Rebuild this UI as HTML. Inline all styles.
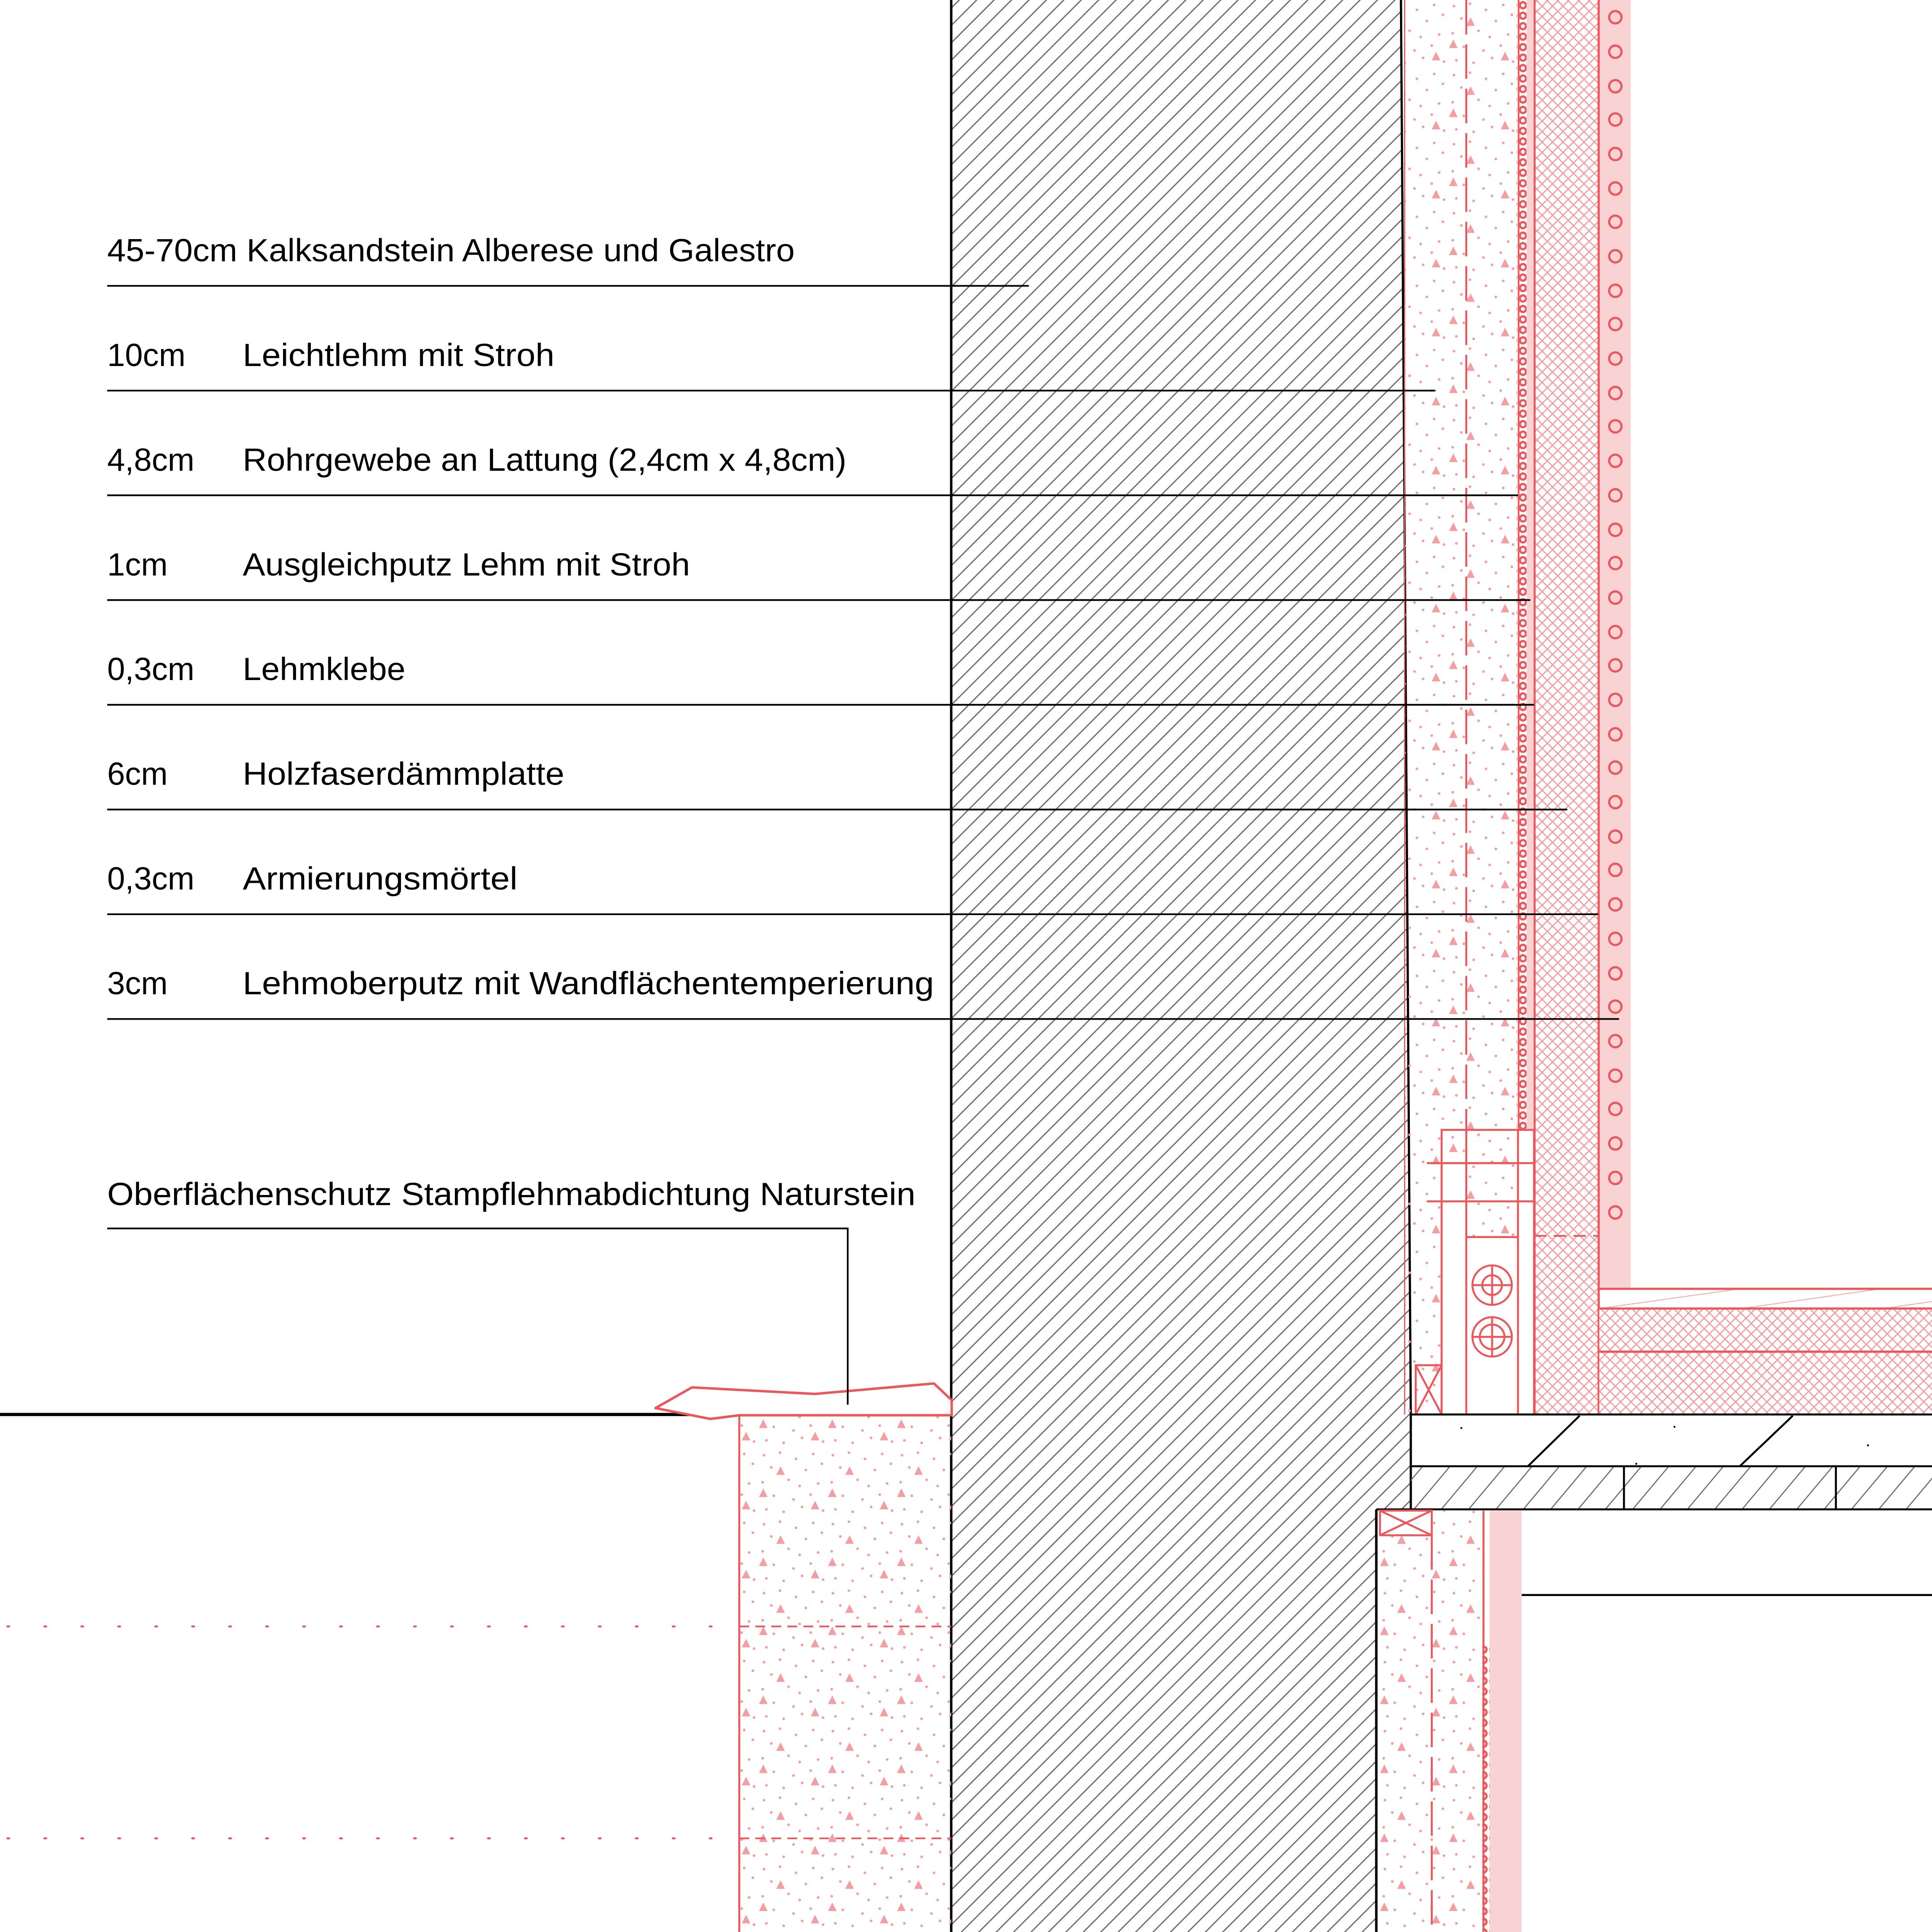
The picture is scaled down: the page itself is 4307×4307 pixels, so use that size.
<!DOCTYPE html>
<html><head><meta charset="utf-8"><style>html,body{margin:0;padding:0;background:#fff}svg{display:block}</style></head>
<body>
<svg width="4307" height="4307" viewBox="0 0 1568 1568" xmlns="http://www.w3.org/2000/svg">
<defs>
<pattern id="hatch" patternUnits="userSpaceOnUse" width="10" height="10" patternTransform="rotate(45)">
<line x1="0" y1="0" x2="0" y2="10" stroke="#6a6a6a" stroke-width="2"/>
</pattern>
<pattern id="hatch2" patternUnits="userSpaceOnUse" width="17" height="17" patternTransform="rotate(40)">
<line x1="0" y1="0" x2="0" y2="17" stroke="#6a6a6a" stroke-width="1.8"/>
</pattern>
<pattern id="cross" patternUnits="userSpaceOnUse" width="6" height="6" patternTransform="rotate(45)">
<rect width="6" height="6" fill="#fff"/>
<line x1="0" y1="0" x2="6" y2="0" stroke="#f0a0a4" stroke-width="2"/>
<line x1="0" y1="0" x2="0" y2="6" stroke="#f0a0a4" stroke-width="2"/>
</pattern>
<pattern id="flr" patternUnits="userSpaceOnUse" width="60" height="16" patternTransform="rotate(-8)">
<line x1="0" y1="0" x2="60" y2="0" stroke="#f0a0a4" stroke-width="1.3"/>
</pattern>
<pattern id="dots" patternUnits="userSpaceOnUse" width="56" height="56">
<g fill="#f29ea2">
<circle cx="4" cy="5" r="1.1"/><circle cx="17" cy="3" r="1.1"/><circle cx="30" cy="8" r="1.1"/><circle cx="44" cy="4" r="1.1"/>
<circle cx="10" cy="15" r="1.1"/><circle cx="38" cy="17" r="1.1"/><circle cx="51" cy="12" r="1.1"/>
<circle cx="3" cy="27" r="1.1"/><circle cx="24" cy="25" r="1.1"/><circle cx="33" cy="30" r="1.1"/><circle cx="48" cy="28" r="1.1"/>
<circle cx="12" cy="38" r="1.1"/><circle cx="28" cy="41" r="1.1"/><circle cx="42" cy="37" r="1.1"/>
<circle cx="6" cy="49" r="1.1"/><circle cx="20" cy="51" r="1.1"/><circle cx="35" cy="47" r="1.1"/><circle cx="52" cy="50" r="1.1"/>
<path d="M14 21 l3.5 -7 l3.5 7z"/><path d="M42 49 l3.5 -7 l3.5 7z"/><path d="M0 39 l3.5 -7 l3.5 7z"/>
</g>
</pattern>
<pattern id="chain" patternUnits="userSpaceOnUse" width="8" height="8.5">
<circle cx="4" cy="4.25" r="2.5" fill="none" stroke="#e8585c" stroke-width="1.8"/>
</pattern>
<clipPath id="wallclip"><polygon points="772,0 1137,0 1145,1148 1145,1225 1117,1225 1117,1568 772,1568"/></clipPath>
</defs>

<rect x="772" y="0" width="380" height="1568" fill="url(#hatch)" clip-path="url(#wallclip)"/>
<line x1="772" y1="0" x2="772" y2="1568" stroke="#000" stroke-width="2"/>
<polyline points="1137,0 1145,1148 1145,1225" fill="none" stroke="#000" stroke-width="1.8"/>
<line x1="1117" y1="1225" x2="1117" y2="1568" stroke="#000" stroke-width="2"/>

<rect x="1140" y="0" width="92" height="1148" fill="url(#dots)"/>
<line x1="1140" y1="0" x2="1140" y2="1148" stroke="#e8585c" stroke-width="1"/>
<line x1="1190" y1="0" x2="1190" y2="917" stroke="#e8585c" stroke-width="1.6" stroke-dasharray="28,8"/>
<rect x="1231" y="0" width="8" height="917" fill="url(#chain)"/>
<line x1="1232.5" y1="0" x2="1232.5" y2="917" stroke="#e8585c" stroke-width="1.4"/>
<rect x="1239" y="0" width="6" height="917" fill="#f9d3d4"/>
<rect x="1245" y="0" width="52" height="1148" fill="url(#cross)"/>
<line x1="1245.5" y1="0" x2="1245.5" y2="1148" stroke="#e8585c" stroke-width="1.6"/>
<line x1="1297.5" y1="0" x2="1297.5" y2="1148" stroke="#e8585c" stroke-width="1.8"/>
<line x1="1245" y1="1003" x2="1297" y2="1003" stroke="#e8585c" stroke-width="1.4" stroke-dasharray="10,6"/>
<rect x="1298.5" y="0" width="25" height="1046" fill="#f9d3d4"/>
<g fill="none" stroke="#e8585c" stroke-width="1.8">
<circle cx="1311" cy="14" r="5"/><circle cx="1311" cy="42" r="5"/><circle cx="1311" cy="70" r="5"/><circle cx="1311" cy="97" r="5"/><circle cx="1311" cy="125" r="5"/><circle cx="1311" cy="153" r="5"/><circle cx="1311" cy="180" r="5"/><circle cx="1311" cy="208" r="5"/><circle cx="1311" cy="236" r="5"/><circle cx="1311" cy="263" r="5"/><circle cx="1311" cy="291" r="5"/><circle cx="1311" cy="319" r="5"/><circle cx="1311" cy="346" r="5"/><circle cx="1311" cy="374" r="5"/><circle cx="1311" cy="402" r="5"/><circle cx="1311" cy="430" r="5"/><circle cx="1311" cy="457" r="5"/><circle cx="1311" cy="485" r="5"/><circle cx="1311" cy="513" r="5"/><circle cx="1311" cy="540" r="5"/><circle cx="1311" cy="568" r="5"/><circle cx="1311" cy="596" r="5"/><circle cx="1311" cy="623" r="5"/><circle cx="1311" cy="651" r="5"/><circle cx="1311" cy="679" r="5"/><circle cx="1311" cy="706" r="5"/><circle cx="1311" cy="734" r="5"/><circle cx="1311" cy="762" r="5"/><circle cx="1311" cy="790" r="5"/><circle cx="1311" cy="817" r="5"/><circle cx="1311" cy="845" r="5"/><circle cx="1311" cy="873" r="5"/><circle cx="1311" cy="900" r="5"/><circle cx="1311" cy="928" r="5"/><circle cx="1311" cy="956" r="5"/><circle cx="1311" cy="984" r="5"/>
</g>

<g stroke="#e8585c" stroke-width="1.6" fill="none">
<rect x="1170" y="944" width="62" height="204" fill="#fff"/>
<rect x="1190" y="917" width="42" height="87" fill="url(#dots)"/>
<rect x="1232" y="917" width="13" height="231" fill="#fff"/>
<polyline points="1170,1148 1170,917 1190,917"/>
<line x1="1158" y1="944" x2="1245" y2="944"/>
<line x1="1158" y1="975" x2="1245" y2="975"/>
<line x1="1190" y1="917" x2="1190" y2="1148"/>
<line x1="1190" y1="1004" x2="1232" y2="1004"/>
<circle cx="1211" cy="1043" r="16"/><circle cx="1211" cy="1043" r="8"/>
<line x1="1195" y1="1043" x2="1227" y2="1043"/><line x1="1211" y1="1027" x2="1211" y2="1059"/>
<circle cx="1211" cy="1085" r="16"/><circle cx="1211" cy="1085" r="10"/>
<line x1="1195" y1="1085" x2="1227" y2="1085"/><line x1="1211" y1="1069" x2="1211" y2="1101"/>
<rect x="1149" y="1108" width="21" height="40"/>
<line x1="1149" y1="1108" x2="1170" y2="1148"/><line x1="1170" y1="1108" x2="1149" y2="1148"/>
</g>

<rect x="1298" y="1046" width="270" height="16" fill="url(#flr)"/>
<rect x="1298" y="1062" width="270" height="86" fill="url(#cross)"/>
<g stroke="#e8585c" stroke-width="1.8">
<line x1="1298" y1="1046" x2="1568" y2="1046"/>
<line x1="1298" y1="1062" x2="1568" y2="1062"/>
<line x1="1298" y1="1097" x2="1568" y2="1097"/>
</g>
<rect x="1145" y="1190" width="423" height="35" fill="url(#hatch2)"/>
<g stroke="#000" stroke-width="1.6" fill="none">
<line x1="1145" y1="1148" x2="1568" y2="1148"/>
<line x1="1145" y1="1190" x2="1568" y2="1190"/>
<line x1="1117" y1="1225" x2="1568" y2="1225"/>
<line x1="1240" y1="1190" x2="1282" y2="1149"/>
<line x1="1412" y1="1190" x2="1455" y2="1149"/>
<line x1="1318" y1="1190" x2="1318" y2="1225"/>
<line x1="1490" y1="1190" x2="1490" y2="1225"/>
<line x1="1235" y1="1294.5" x2="1568" y2="1294.5"/>
</g>
<g fill="#000"><circle cx="1186" cy="1159" r="0.8"/><circle cx="1359" cy="1158" r="0.8"/><circle cx="1516" cy="1173" r="0.8"/><circle cx="1328" cy="1188" r="0.8"/></g>

<rect x="1118" y="1226" width="86" height="342" fill="url(#dots)"/>
<g stroke="#e8585c" stroke-width="1.6" fill="none">
<line x1="1162" y1="1246" x2="1162" y2="1568" stroke-dasharray="28,8"/>
<line x1="1204" y1="1226" x2="1204" y2="1568"/>
<rect x="1120" y="1226" width="42" height="20" fill="#fff"/>
<line x1="1120" y1="1226" x2="1162" y2="1246"/><line x1="1162" y1="1226" x2="1120" y2="1246"/>
</g>
<rect x="1203" y="1336" width="8" height="232" fill="url(#chain)"/>
<rect x="1209" y="1226" width="26" height="342" fill="#f9d3d4"/>

<rect x="600" y="1148" width="172" height="420" fill="url(#dots)"/>
<line x1="600" y1="1148" x2="600" y2="1568" stroke="#e8585c" stroke-width="1.6"/>
<g stroke="#e8585c" stroke-width="1.4" stroke-dasharray="8,5">
<line x1="600" y1="1320" x2="772" y2="1320"/>
<line x1="600" y1="1492" x2="772" y2="1492"/>
</g>
<g stroke="#e8585c" stroke-width="1.6" stroke-dasharray="1.5,28.5" stroke-linecap="round">
<line x1="6" y1="1320" x2="595" y2="1320"/>
<line x1="6" y1="1492" x2="595" y2="1492"/>
</g>
<line x1="0" y1="1148" x2="566" y2="1148" stroke="#000" stroke-width="2.6"/>
<polygon points="532,1142.8 561.6,1126 661.4,1131.3 758,1122.8 772.4,1136.4 772.4,1148.6 600,1148.6 576.5,1151.6" fill="#fff" stroke="#e8585c" stroke-width="2" stroke-linejoin="round"/>

<g stroke="#000" stroke-width="1.4" fill="none">
<line x1="87" y1="232" x2="835" y2="232"/>
<line x1="87" y1="317" x2="1165" y2="317"/>
<line x1="87" y1="402" x2="1232" y2="402"/>
<line x1="87" y1="487" x2="1242" y2="487"/>
<line x1="87" y1="572" x2="1245" y2="572"/>
<line x1="87" y1="657" x2="1272" y2="657"/>
<line x1="87" y1="742" x2="1297" y2="742"/>
<line x1="87" y1="827" x2="1314" y2="827"/>
<polyline points="87,997 688,997 688,1140"/>
</g>
<g font-family="Liberation Sans, DejaVu Sans, sans-serif" font-size="26" fill="#000">
<text x="87" y="212" textLength="558" lengthAdjust="spacingAndGlyphs">45-70cm Kalksandstein Alberese und Galestro</text>
<text x="87" y="297">10cm</text><text x="197" y="297" textLength="253" lengthAdjust="spacingAndGlyphs">Leichtlehm mit Stroh</text>
<text x="87" y="382">4,8cm</text><text x="197" y="382" textLength="490" lengthAdjust="spacingAndGlyphs">Rohrgewebe an Lattung (2,4cm x 4,8cm)</text>
<text x="87" y="467">1cm</text><text x="197" y="467" textLength="363" lengthAdjust="spacingAndGlyphs">Ausgleichputz Lehm mit Stroh</text>
<text x="87" y="552">0,3cm</text><text x="197" y="552" textLength="132" lengthAdjust="spacingAndGlyphs">Lehmklebe</text>
<text x="87" y="637">6cm</text><text x="197" y="637" textLength="261" lengthAdjust="spacingAndGlyphs">Holzfaserdämmplatte</text>
<text x="87" y="722">0,3cm</text><text x="197" y="722" textLength="223" lengthAdjust="spacingAndGlyphs">Armierungsmörtel</text>
<text x="87" y="807">3cm</text><text x="197" y="807" textLength="561" lengthAdjust="spacingAndGlyphs">Lehmoberputz mit Wandflächentemperierung</text>
<text x="87" y="978" textLength="656" lengthAdjust="spacingAndGlyphs">Oberflächenschutz Stampflehmabdichtung Naturstein</text>
</g>
</svg>
</body></html>
